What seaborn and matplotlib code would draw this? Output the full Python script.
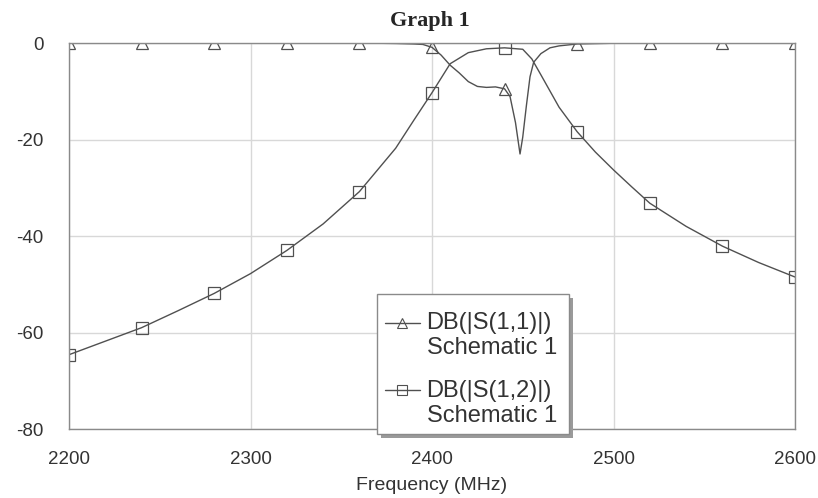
"""
Recreation of the AWR-style S-parameter plot (Graph 1).
"""

import matplotlib
matplotlib.use('Agg')
import matplotlib.pyplot as plt
from matplotlib.lines import Line2D
from matplotlib.patches import Rectangle
import pandas as pd
import seaborn as sns

# S11 (MHz, dB)
s11_freq = [2200, 2240, 2280, 2320, 2360, 2370, 2380, 2390, 2395, 2400, 2405,
            2410, 2415, 2420, 2425, 2430, 2435, 2440, 2443, 2446, 2448.5, 2450,
            2452, 2454, 2456, 2460, 2465, 2470, 2480, 2500, 2520, 2560, 2600]
s11_db = [-0.02, -0.02, -0.02, -0.02, -0.03, -0.05, -0.1, -0.2, -0.3, -0.9, -2.5,
          -4.6, -6.2, -8.0, -9.0, -9.2, -9.1, -9.5, -11.1, -16.5, -23.0, -19.5,
          -13.0, -7.0, -4.0, -2.2, -1.0, -0.6, -0.2, -0.05, -0.02, -0.02, -0.02]

# S12 (MHz, dB)
s12_freq = [2200, 2220, 2240, 2260, 2280, 2300, 2320, 2340, 2360, 2380, 2390,
            2400, 2410, 2420, 2430, 2440, 2450, 2455, 2460, 2470, 2480, 2490,
            2500, 2510, 2520, 2540, 2560, 2580, 2600]
s12_db = [-64.6, -61.8, -59.0, -55.5, -51.9, -47.8, -43.0, -37.5, -30.8, -21.8, -16.0,
          -10.3, -4.3, -2.0, -1.2, -1.0, -1.3, -3.3, -6.6, -13.3, -18.4, -22.6,
          -26.3, -29.8, -33.2, -38.0, -42.1, -45.5, -48.5]

x_ticks = [2200, 2300, 2400, 2500, 2600]
y_ticks = [0, -20, -40, -60, -80]
labels = ['DB(|S(1,1)|)\nSchematic 1', 'DB(|S(1,2)|)\nSchematic 1']
markers = ['^', 's']

s11 = pd.DataFrame({'freq': s11_freq, 'db': s11_db})
s12 = pd.DataFrame({'freq': s12_freq, 'db': s12_db})

sns.set_style('white')
plt.rcParams['font.family'] = ['Liberation Sans', 'DejaVu Sans']
plt.rcParams['axes.unicode_minus'] = False

W, H = 818, 498
fig = plt.figure(figsize=(W / 100, H / 100), dpi=100)
ax = fig.add_axes([69 / W, 1 - 429 / H, (795 - 69) / W, (429 - 43) / H])

line_col = '#505050'
for df, mk in zip([s11, s12], markers):
    mask = list((df['freq'] % 40 == 0).values)
    sns.lineplot(data=df, x='freq', y='db', ax=ax, color=line_col, lw=1.0,
                 marker=mk, markersize=8.5, markerfacecolor='none',
                 markeredgecolor=line_col, markeredgewidth=0.9,
                 markevery=mask, sort=False)
# clip the markers sitting on the top edge, as in the original
for ln in ax.lines:
    ln.set_clip_path(ax.patch)

ax.set_xlim(2200, 2600)
ax.set_ylim(-80, 0)
ax.set_xticks(x_ticks)
ax.set_yticks(y_ticks)
ax.tick_params(axis='both', length=0, labelsize=13.5, colors='#333333')
ax.tick_params(axis='y', pad=18.5)
ax.tick_params(axis='x', pad=16)
ax.grid(True, color='#d8d8d8', lw=1.0)
for sp in ax.spines.values():
    sp.set_color('#8a8a8a')
    sp.set_linewidth(1.0)
ax.set_xlabel('Frequency (MHz)', fontsize=14, color='#333333', labelpad=6)
ax.set_ylabel('')

fig.text(430 / W, 1 - 21 / H, 'Graph 1', ha='center', va='center', fontsize=16,
         fontweight='bold', family=['Liberation Serif', 'DejaVu Serif'])

# legend box with a drop shadow (drawn by hand so the padding can differ)
bx0, bx1, by0, by1 = 377, 569, 294, 434
ax.add_patch(Rectangle(((bx0 + 4) / W, 1 - (by1 + 4) / H), (bx1 - bx0) / W,
                       (by1 - by0) / H, transform=fig.transFigure,
                       facecolor='#9a9a9a', edgecolor='none', clip_on=False,
                       zorder=4))
ax.add_patch(Rectangle((bx0 / W, 1 - by1 / H), (bx1 - bx0) / W, (by1 - by0) / H,
                       transform=fig.transFigure, facecolor='white',
                       edgecolor='#8a8a8a', lw=1.0, clip_on=False, zorder=4.5))

handles = [Line2D([], [], color=line_col, lw=1.0, marker=mk, markersize=6.5,
                  markerfacecolor='none', markeredgecolor=line_col,
                  markeredgewidth=0.8) for mk in markers]
leg = ax.legend(handles, labels, loc='upper left',
                bbox_to_anchor=(bx0 / W, 1 - 304 / H),
                bbox_transform=fig.transFigure, borderaxespad=0, fontsize=17,
                frameon=False, handlelength=1.45, handletextpad=0.3,
                labelspacing=0.9, borderpad=0.35)
leg.set_zorder(5)
for t in leg.get_texts():
    t.set_color('#333333')
    t.set_linespacing(1.15)
# put each handle beside the first line of its two-line label
for h in leg.legend_handles:
    h.set_ydata([y + 9.5 for y in h.get_ydata()])

fig.savefig('out.png', dpi=100)
